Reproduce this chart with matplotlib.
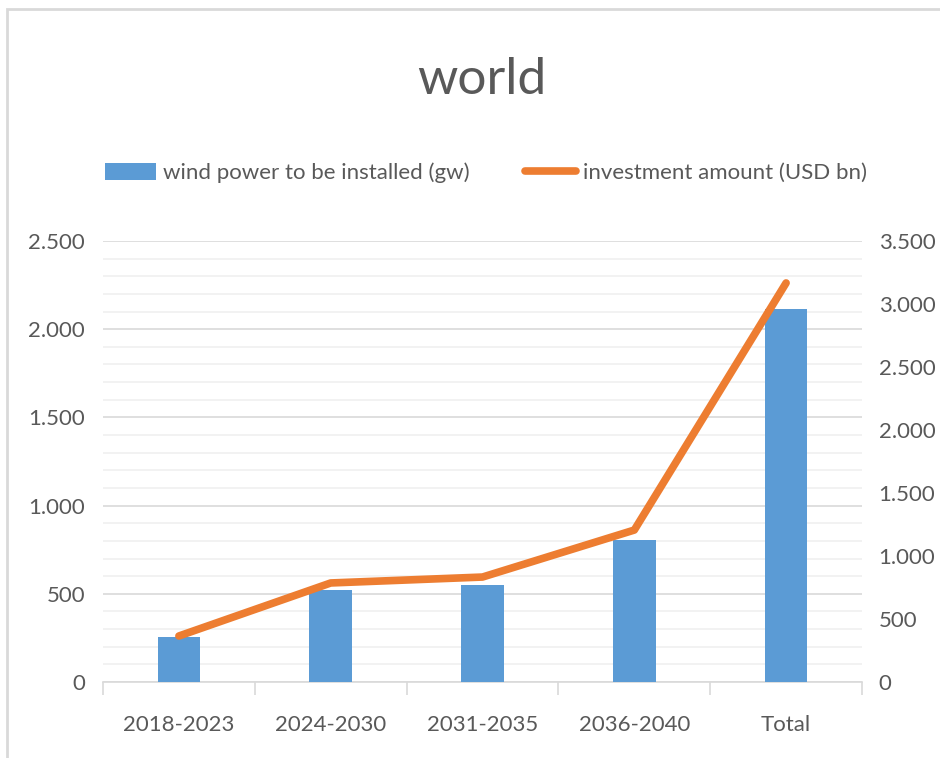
import matplotlib.pyplot as plt
import numpy as np
from matplotlib.patches import Rectangle
from matplotlib.ticker import FuncFormatter, MultipleLocator
from matplotlib.lines import Line2D
from matplotlib.patches import Patch

plt.rcParams['font.family'] = ['Lato', 'DejaVu Sans']

categories = ['2018-2023', '2024-2030', '2031-2035', '2036-2040', 'Total']
wind_gw = [255, 521, 550, 805, 2115]
invest_usd_bn = [365, 786, 833, 1206, 3167]

title = 'world'
bar_label = 'wind power to be installed (gw)'
line_label = 'investment amount (USD bn)'

grey_text = '#595959'
bar_color = '#5B9BD5'
line_color = '#ED7D31'


def dot_thousands(v, pos):
    return f'{int(round(v)):,}'.replace(',', '.')


fig = plt.figure(figsize=(9.4, 7.58), dpi=100)

# frame of the original chart object
fig.patches.append(Rectangle((7 / 940, -0.01), 1.0, 0.9985, transform=fig.transFigure,
                             fill=False, edgecolor='#d9d9d9', linewidth=2))

ax = fig.add_axes([103 / 940, 76 / 758, 759 / 940, 441 / 758])
x = np.arange(len(categories))
ax.bar(x, wind_gw, width=0.28, color=bar_color, zorder=3)
ax.set_xlim(-0.5, len(categories) - 0.5)
ax.set_ylim(0, 2500)
ax.yaxis.set_major_locator(MultipleLocator(500))
ax.yaxis.set_minor_locator(MultipleLocator(100))
ax.yaxis.set_major_formatter(FuncFormatter(dot_thousands))
ax.grid(axis='y', which='major', color='#d9d9d9', linewidth=1.2, zorder=0)
ax.grid(axis='y', which='minor', color='#f0f0f0', linewidth=1.2, zorder=0)
ax.set_axisbelow(True)

ax.set_xticks(x)
ax.set_xticklabels(categories)
ax.set_xticks(np.arange(-0.5, len(categories)), minor=True)
ax.tick_params(axis='x', which='major', length=0, pad=24, labelsize=16, labelcolor=grey_text)
ax.tick_params(axis='x', which='minor', length=9, color='#d9d9d9', width=1.2)
ax.tick_params(axis='y', which='both', length=0, pad=13, labelsize=16, labelcolor=grey_text)
for s in ['top', 'left', 'right']:
    ax.spines[s].set_visible(False)
ax.spines['bottom'].set_color('#d9d9d9')
ax.spines['bottom'].set_linewidth(1.2)

ax2 = ax.twinx()
ax2.plot(x, invest_usd_bn, color=line_color, linewidth=5.5, solid_capstyle='round',
         solid_joinstyle='round', zorder=4)
ax2.set_ylim(0, 3500)
ax2.yaxis.set_major_locator(MultipleLocator(500))
ax2.yaxis.set_major_formatter(FuncFormatter(dot_thousands))
ax2.tick_params(axis='y', length=0, pad=12, labelsize=16, labelcolor=grey_text)
for s in ['top', 'left', 'right', 'bottom']:
    ax2.spines[s].set_visible(False)

fig.text(482 / 940, 1 - 80 / 758, title, ha='center', va='center', fontsize=37, color=grey_text)

handles = [Patch(facecolor=bar_color, edgecolor='none'),
           Line2D([0], [0], color=line_color, linewidth=5.5, solid_capstyle='round')]
fig.legend(handles, [bar_label, line_label], loc='center', bbox_to_anchor=(486 / 940, 1 - 173 / 758),
           ncol=2, frameon=False, fontsize=16, labelcolor=grey_text, handlelength=2.3,
           handleheight=0.75, handletextpad=0.3, columnspacing=2.5)

fig.savefig('out.png', dpi=100)
